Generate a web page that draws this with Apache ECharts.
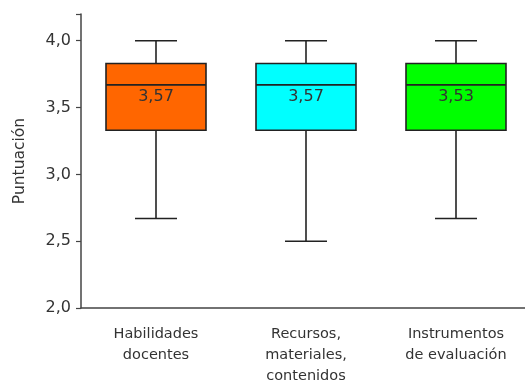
<!DOCTYPE html>
<html>
<head>
<meta charset="utf-8">
<script src="https://cdn.jsdelivr.net/npm/echarts@6/dist/echarts.min.js"></script>
<style>html,body{margin:0;padding:0;background:#fff;}#c{width:525px;height:382px;}</style>
</head>
<body>
<div id="c"></div>
<script>
var categories = ['Habilidades\ndocentes', 'Recursos,\nmateriales,\ncontenidos', 'Instrumentos\nde evaluación'];
var lowerWhisker = [2.67, 2.5, 2.67];
var q1 = [3.33, 3.33, 3.33];
var median = [3.67, 3.67, 3.67];
var q3 = [3.83, 3.83, 3.83];
var upperWhisker = [4.0, 4.0, 4.0];
var meanLabels = [3.57, 3.57, 3.53];
var colors = ['#FF6600', '#00FFFF', '#00FF00'];
var yTicks = [2.0, 2.5, 3.0, 3.5, 4.0];

var data = categories.map(function (c, i) {
  return [i, lowerWhisker[i], q1[i], median[i], q3[i], upperWhisker[i], meanLabels[i]];
});

var chart = echarts.init(document.getElementById('c'));
var FONT = '"DejaVu Sans", sans-serif';
var stroke = '#222';

chart.setOption({
  animation: false,
  grid: { left: 81, width: 450, top: 14, bottom: 74, containLabel: false, outerBoundsMode: 'none' },
  xAxis: {
    type: 'category',
    data: categories,
    boundaryGap: true,
    axisLine: { lineStyle: { color: '#444', width: 1.5 } },
    axisTick: { show: false },
    axisLabel: { color: '#333', fontFamily: FONT, fontSize: 14.5, lineHeight: 21, margin: 16, interval: 0 }
  },
  yAxis: {
    type: 'value',
    min: 2.0, max: 4.2, interval: 0.5,
    name: 'Puntuación',
    nameLocation: 'middle',
    nameGap: 53,
    nameTextStyle: { color: '#333', fontFamily: FONT, fontSize: 15.5 },
    splitLine: { show: false },
    axisLine: { show: true, lineStyle: { color: '#444', width: 1.5 } },
    axisTick: { show: true, length: 5, lineStyle: { color: '#444', width: 1.2 } },
    axisLabel: {
      color: '#333', fontFamily: FONT, fontSize: 16, margin: 10,
      formatter: function (v) {
        if (yTicks.indexOf(Math.round(v * 10) / 10) < 0) return '';
        return v.toFixed(1).replace('.', ',');
      }
    }
  },
  series: [{
    type: 'custom',
    data: data,
    encode: { x: 0, y: [1, 2, 3, 4, 5] },
    renderItem: function (params, api) {
      var idx = api.value(0);
      var band = api.size([1, 0])[0];
      var bw = band * 2 / 3;
      var cw = band * 0.28;
      var pLow = api.coord([idx, api.value(1)]);
      var pQ1 = api.coord([idx, api.value(2)]);
      var pMed = api.coord([idx, api.value(3)]);
      var pQ3 = api.coord([idx, api.value(4)]);
      var pUp = api.coord([idx, api.value(5)]);
      var cx = pMed[0];
      var ls = { stroke: stroke, lineWidth: 1.6 };
      var lbl = api.value(6).toFixed(2).replace('.', ',');
      return {
        type: 'group',
        children: [
          { type: 'line', shape: { x1: cx, y1: pUp[1], x2: cx, y2: pQ3[1] }, style: ls },
          { type: 'line', shape: { x1: cx, y1: pQ1[1], x2: cx, y2: pLow[1] }, style: ls },
          { type: 'line', shape: { x1: cx - cw / 2, y1: pUp[1], x2: cx + cw / 2, y2: pUp[1] }, style: ls },
          { type: 'line', shape: { x1: cx - cw / 2, y1: pLow[1], x2: cx + cw / 2, y2: pLow[1] }, style: ls },
          { type: 'rect', shape: { x: cx - bw / 2, y: pQ3[1], width: bw, height: pQ1[1] - pQ3[1] },
            style: { fill: colors[params.dataIndex], stroke: stroke, lineWidth: 1.6 } },
          { type: 'line', shape: { x1: cx - bw / 2, y1: pMed[1], x2: cx + bw / 2, y2: pMed[1] }, style: ls },
          { type: 'text', style: { text: lbl, x: cx, y: pMed[1] + 4, align: 'center', verticalAlign: 'top',
              fill: '#333', font: '16px ' + FONT } }
        ]
      };
    }
  }]
});
</script>
</body>
</html>
